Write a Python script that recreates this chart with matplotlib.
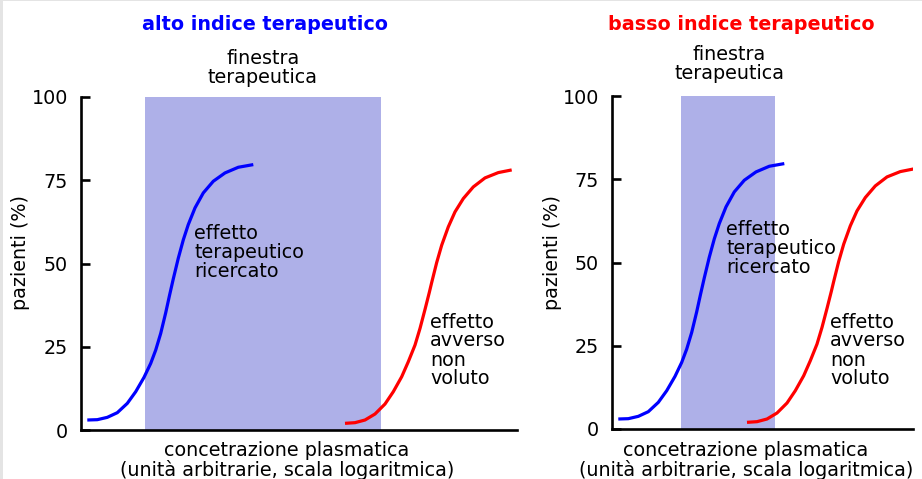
import matplotlib
matplotlib.use("Agg")
from matplotlib import pyplot as plt
from matplotlib.patches import Rectangle

W, H = 922, 479

# dose-response curves (x: arbitrary concentration units, y: % of patients)
blue_x = [6.3, 16.3, 26.3, 36.3, 46.3, 54.7, 63, 69.7, 74.7, 79.7, 84.7, 88.5,
          92.3, 97.3, 102.3, 107.3, 114, 122.3, 132.3, 144, 157.3, 172.3]
blue_y = [3.0, 3.1, 3.8, 5.2, 8.0, 11.5, 15.8, 20.0, 24.0, 29.0, 35.2, 40.4,
          45.4, 51.6, 57.1, 61.7, 66.7, 71.2, 74.7, 77.2, 78.9, 79.7]
red_x = [264, 274, 284, 294, 304, 312.3, 320.7, 327.3, 334, 339, 344, 348.3,
         350.7, 355.7, 360.7, 367.3, 374, 382.3, 392.3, 404, 417.3, 430.7]
red_y = [2.0, 2.2, 3.0, 4.8, 7.8, 11.5, 16.0, 20.5, 25.5, 30.5, 36.2, 41.3,
         44.3, 50.3, 55.5, 61.0, 65.5, 69.5, 73.0, 75.7, 77.3, 78.1]

panel_titles = ["alto indice terapeutico", "basso indice terapeutico"]
panel_colors = ["#0000ff", "#ff0000"]
x_max = [436, 301]          # extent of each x axis
window = [(64, 300), (69, 163)]   # therapeutic window per panel
red_shift = [0, -129]       # red curve moves left in the narrow-index case
yticks = [0, 25, 50, 75, 100]

FS = 13.8
CURVE_LW = 2.3
LINE_LW = 1.9


def fx(x):
    return x / W


def fy(y):
    return 1 - y / H


fig = plt.figure(figsize=(W / 100, H / 100), dpi=100)
fig.patch.set_facecolor("white")
# thin grey frame at left / top edge
fig.add_artist(Rectangle((0, 0), fx(2.7), 1, transform=fig.transFigure, color="#e4e4e4", lw=0))
fig.add_artist(Rectangle((0, fy(1.2)), 1, 1.2 / H, transform=fig.transFigure, color="#e4e4e4", lw=0))

# axes boxes in pixels: (left, top, right, bottom)
boxes = [(81, 97, 517, 430), (612, 96, 913, 429)]

title_x = [265, 741]
window_lbl = [(263, 68), (729, 64)]
ther_lbl = [(194, 252.5), (726, 248.5)]
adv_lbl = [(430, 350.5), (830, 350.5)]
xlab = [(287, 460.5), (746, 461)]
ylab = [(21, 253), (552, 252)]

for i in range(2):
    l, t, r, b = boxes[i]
    ax = fig.add_axes([fx(l), fy(b), (r - l) / W, (b - t) / H])
    ax.set_xlim(0, x_max[i])
    ax.set_ylim(0, 100)

    ax.axvspan(window[i][0], window[i][1], ymin=0, ymax=1, color="#aeb0e8", lw=0, zorder=1)
    ax.plot(blue_x, blue_y, color="#0000ff", lw=CURVE_LW,
            solid_capstyle="butt", solid_joinstyle="round", zorder=3)
    ax.plot([x + red_shift[i] for x in red_x], red_y, color="#ff0000", lw=CURVE_LW,
            solid_capstyle="butt", solid_joinstyle="round", zorder=3)

    for s in ["top", "right"]:
        ax.spines[s].set_visible(False)
    for s in ["left", "bottom"]:
        ax.spines[s].set_linewidth(LINE_LW)
        ax.spines[s].set_zorder(4)
    ax.set_xticks([])
    ax.set_yticks(yticks)
    ax.tick_params(axis="y", direction="in", length=6.5, width=LINE_LW, labelsize=FS, pad=9.5)
    ax.patch.set_alpha(0)

    fig.text(fx(title_x[i]), fy(24), panel_titles[i], color=panel_colors[i], fontsize=FS,
             fontweight="bold", ha="center", va="center")
    fig.text(fx(window_lbl[i][0]), fy(window_lbl[i][1]), "finestra\nterapeutica", fontsize=FS,
             ha="center", va="center", multialignment="center", linespacing=1.0)
    fig.text(fx(ther_lbl[i][0]), fy(ther_lbl[i][1]), "effetto\nterapeutico\nricercato", fontsize=FS,
             ha="left", va="center", linespacing=1.0)
    fig.text(fx(adv_lbl[i][0]), fy(adv_lbl[i][1]), "effetto\navverso\nnon\nvoluto", fontsize=FS,
             ha="left", va="center", linespacing=1.0)
    fig.text(fx(xlab[i][0]), fy(xlab[i][1]),
             "concetrazione plasmatica\n(unità arbitrarie, scala logaritmica)", fontsize=FS,
             ha="center", va="center", multialignment="center", linespacing=1.0)
    fig.text(fx(ylab[i][0]), fy(ylab[i][1]), "pazienti (%)", fontsize=FS, rotation=90,
             ha="center", va="center")

fig.savefig("out.png", dpi=100)
